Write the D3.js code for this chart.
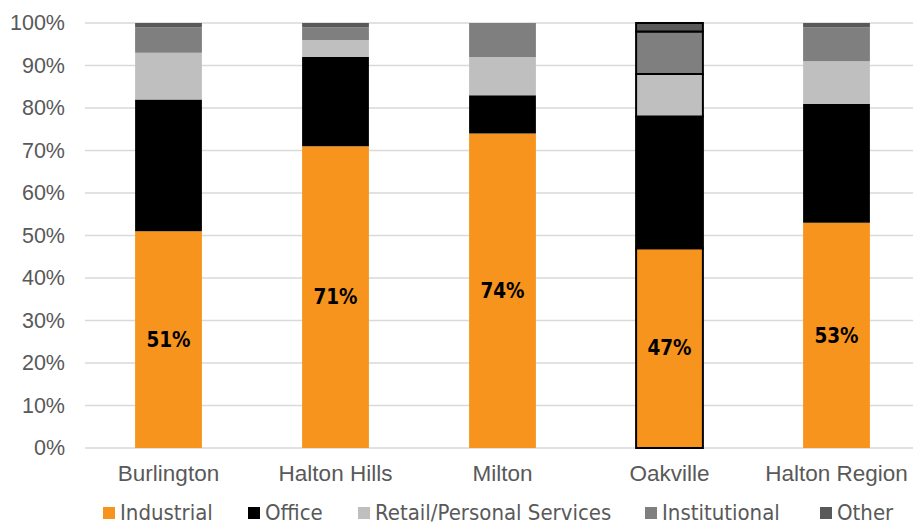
<!DOCTYPE html>
<html>
<head>
<meta charset="utf-8">
<script src="https://cdn.jsdelivr.net/npm/d3@7"></script>
<style>
  body { margin: 0; background: #fff; }
  svg { display: block; font-family: "DejaVu Sans", sans-serif; font-stretch: condensed; }
</style>
</head>
<body>
<div id="chart"></div>
<script>
const regions = ["Burlington", "Halton Hills", "Milton", "Oakville", "Halton Region"];
const sectors = ["Industrial", "Office", "Retail/Personal Services", "Institutional", "Other"];
const industrial = [51, 71, 74, 47, 53];
const office = [31, 21, 9, 31, 28];
const retail = [11, 4, 9, 10, 10];
const institutional = [6, 3, 8, 10, 8];
const other = [1, 1, 0, 2, 1];
const yTicks = [0, 10, 20, 30, 40, 50, 60, 70, 80, 90, 100];
const colors = ["#F7941D", "#000000", "#BFBFBF", "#7F7F7F", "#595959"];
const highlighted = "Oakville";

const width = 913, height = 524;
const margin = { top: 23, right: -7, bottom: 76, left: 85 };

const rows = regions.map(function (r, i) {
  return {
    region: r,
    Industrial: industrial[i],
    Office: office[i],
    "Retail/Personal Services": retail[i],
    Institutional: institutional[i],
    Other: other[i]
  };
});

const stacked = d3.stack().keys(sectors)(rows);

const x = d3.scaleBand()
  .domain(regions)
  .range([margin.left, width - margin.right])
  .paddingInner(0.6)
  .paddingOuter(0.3);

const y = d3.scaleLinear()
  .domain([0, 100])
  .range([height - margin.bottom, margin.top]);

const color = d3.scaleOrdinal(sectors, colors);

const svg = d3.create("svg")
  .attr("width", width)
  .attr("height", height)
  .attr("viewBox", [0, 0, width, height]);

// gridlines
svg.append("g")
  .selectAll("line")
  .data(yTicks)
  .join("line")
    .attr("x1", margin.left)
    .attr("x2", width - margin.right)
    .attr("y1", d => y(d))
    .attr("y2", d => y(d))
    .attr("stroke", "#D9D9D9")
    .attr("stroke-width", 1.5);

// y axis labels
const yAxis = svg.append("g")
  .attr("transform", `translate(${margin.left - 20},0)`)
  .call(d3.axisLeft(y).tickValues(yTicks).tickFormat(d => d + "%").tickSize(0).tickPadding(0));
yAxis.select(".domain").remove();
yAxis.selectAll("text")
  .attr("fill", "#595959")
  .attr("font-size", 21.5)
  .attr("font-family", null);

// bars
svg.append("g")
  .selectAll("g")
  .data(stacked)
  .join("g")
    .attr("fill", d => color(d.key))
  .selectAll("rect")
  .data(d => d.filter(s => s[1] - s[0] > 0))
  .join("rect")
    .attr("x", d => x(d.data.region))
    .attr("width", x.bandwidth())
    .attr("y", d => y(d[1]))
    .attr("height", d => y(d[0]) - y(d[1]))
    .attr("stroke", d => d.data.region === highlighted ? "#000" : "none")
    .attr("stroke-width", 2);

// industrial labels
svg.append("g")
  .selectAll("text")
  .data(stacked[0])
  .join("text")
    .attr("x", d => x(d.data.region) + x.bandwidth() / 2)
    .attr("y", d => (y(d[0]) + y(d[1])) / 2)
    .attr("dy", "0.35em")
    .attr("text-anchor", "middle")
    .attr("font-weight", "bold")
    .attr("font-size", 20.5)
    .attr("fill", "#000")
    .text(d => d.data.Industrial + "%");

// x axis labels
const xAxis = svg.append("g")
  .attr("transform", `translate(0,${height - margin.bottom + 13})`)
  .call(d3.axisBottom(x).tickSize(0).tickPadding(4));
xAxis.select(".domain").remove();
xAxis.selectAll("text")
  .attr("fill", "#595959")
  .attr("font-size", 22.5)
  .attr("font-family", null);

// legend
const legendX = [103, 248, 358, 645, 820];
const legend = svg.append("g")
  .selectAll("g")
  .data(sectors)
  .join("g")
    .attr("transform", (d, i) => `translate(${legendX[i]},${height - 4})`);
legend.append("rect")
  .attr("x", 0)
  .attr("y", -13)
  .attr("width", 12)
  .attr("height", 12)
  .attr("fill", d => color(d));
legend.append("text")
  .attr("x", 17)
  .attr("y", 0)
  .attr("fill", "#595959")
  .attr("font-size", 22)
  .text(d => d);

d3.select("#chart").node().appendChild(svg.node());
</script>
</body>
</html>
